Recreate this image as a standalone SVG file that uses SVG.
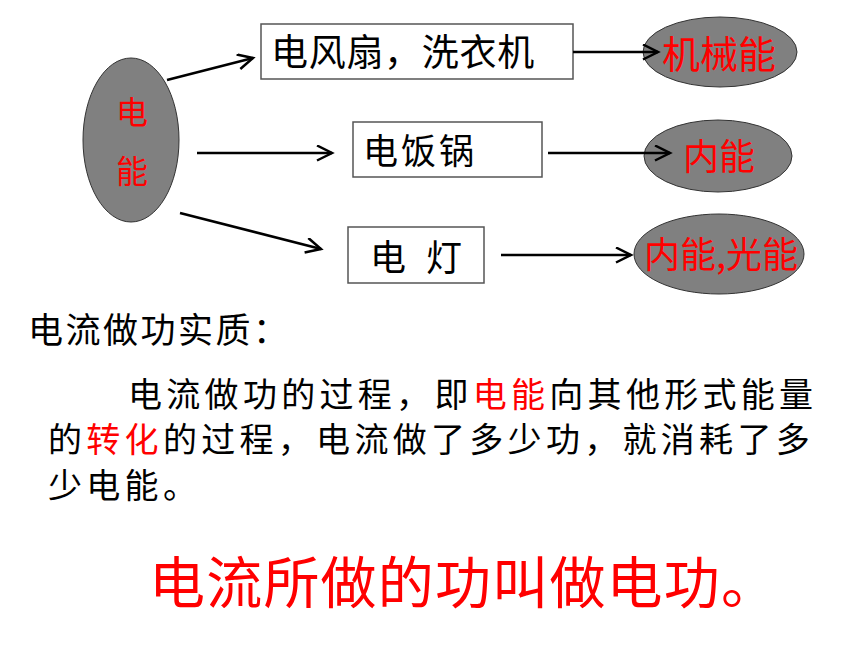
<svg xmlns="http://www.w3.org/2000/svg" width="860" height="645" viewBox="0 0 860 645">
<defs>
<style>
text{font-family:"Noto Sans CJK SC","Liberation Sans",sans-serif;}
.oval{fill:#808080;stroke:#333333;stroke-width:1;}
.box{fill:#ffffff;stroke:#555555;stroke-width:1.5;}
.red{fill:#ff0000;}
.blk{fill:#000000;}
.conn{stroke:#000000;stroke-width:2.5;fill:none;marker-end:url(#arr);}
</style>
<marker id="arr" markerUnits="userSpaceOnUse" markerWidth="20" markerHeight="20" viewBox="0 0 20 20" refX="16" refY="8" orient="auto">
<path d="M1,0.5 L16,8 L1,15.5" fill="none" stroke="#000000" stroke-width="2.5"/>
</marker>
</defs>
<rect width="860" height="645" fill="#ffffff"/>

<g id="source">
<ellipse class="oval" cx="131" cy="140" rx="48" ry="82"/>
<text class="red" x="132" y="124" font-size="32" text-anchor="middle">电</text>
<text class="red" x="132" y="183" font-size="32" text-anchor="middle">能</text>
</g>

<g id="fan">
<rect class="box" x="261" y="24" width="312" height="55"/>
<text class="blk" x="271" y="66" font-size="37" letter-spacing="0.7">电风扇，洗衣机</text>
</g>
<g id="cooker">
<rect class="box" x="353" y="122" width="189" height="55"/>
<text class="blk" x="363" y="164" font-size="35" letter-spacing="3">电饭锅</text>
</g>
<g id="lamp">
<rect class="box" x="348" y="227" width="136" height="56"/>
<text class="blk" font-size="36" y="271"><tspan x="370">电</tspan><tspan x="426">灯</tspan></text>
</g>

<g id="mech">
<ellipse class="oval" cx="720" cy="52" rx="77" ry="35"/>
<text class="red" x="719" y="68" font-size="38" text-anchor="middle">机械能</text>
</g>
<g id="heat">
<ellipse class="oval" cx="718" cy="156" rx="74" ry="36"/>
<text class="red" x="719" y="170" font-size="36" text-anchor="middle">内能</text>
</g>
<g id="heatlight">
<ellipse class="oval" cx="719" cy="254" rx="85" ry="40"/>
<text class="red" x="721" y="268" font-size="36" text-anchor="middle">内能,光能</text>
</g>

<g id="connectors">
<line class="conn" x1="167" y1="80" x2="253" y2="58"/>
<line class="conn" x1="197" y1="153" x2="332" y2="153"/>
<line class="conn" x1="180" y1="213" x2="321" y2="249"/>
<line class="conn" x1="573" y1="52" x2="658" y2="52"/>
<line class="conn" x1="548" y1="153" x2="670" y2="153"/>
<line class="conn" x1="501" y1="255" x2="631" y2="255"/>
</g>

<g id="explanation">
<text class="blk" x="28" y="343" font-size="35" letter-spacing="2.5">电流做功实质：</text>
<text class="blk" x="128" y="407" font-size="34" letter-spacing="4.3">电流做功的过程，即<tspan class="red">电能</tspan>向其他形式能量</text>
<text class="blk" x="48" y="452" font-size="34" letter-spacing="4.3">的<tspan class="red">转化</tspan>的过程，电流做了多少功，就消耗了多</text>
<text class="blk" x="48" y="498" font-size="34" letter-spacing="4.3">少电能。</text>
<text class="red" x="149" y="603" font-size="56" letter-spacing="1.2">电流所做的功叫做电功。</text>
</g>
</svg>
